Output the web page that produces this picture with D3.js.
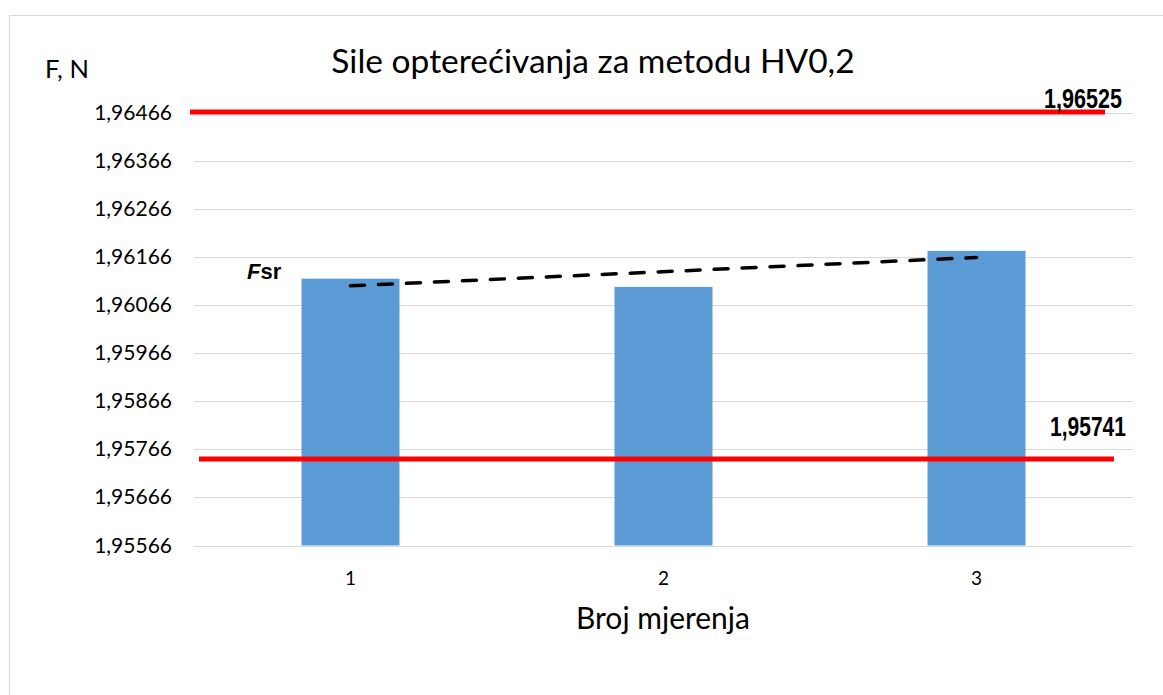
<!DOCTYPE html>
<html>
<head>
<meta charset="utf-8">
<script src="https://cdn.jsdelivr.net/npm/d3@7"></script>
<style>
  body { margin: 0; background: #fff; }
  svg { display: block; }
</style>
</head>
<body>
<div id="chart"></div>
<script>
// chart data
const categories = ["1", "2", "3"];
const forces = [1.961212, 1.961041, 1.961791];
const yTicks = [1.95566, 1.95666, 1.95766, 1.95866, 1.95966, 1.96066, 1.96166, 1.96266, 1.96366, 1.96466];
const trendStart = 1.961063;   // Fsr trend at measurement 1
const trendEnd = 1.961654;     // Fsr trend at measurement 3
const upperLimit = 1.96525;
const lowerLimit = 1.95741;

const width = 1163, height = 695;

const svg = d3.select("#chart").append("svg")
    .attr("width", width)
    .attr("height", height);

// outer chart border
svg.append("rect")
    .attr("x", 9.5).attr("y", 15.5)
    .attr("width", 1200).attr("height", 720)
    .attr("fill", "none")
    .attr("stroke", "#d9d9d9");

const x = d3.scaleBand()
    .domain(categories)
    .range([194, 1133])
    .paddingInner(0.687)
    .paddingOuter(0.3435);

const y = d3.scaleLinear()
    .domain([1.95566, 1.96466])
    .range([545.5, 113])
    .clamp(true);

// gridlines
svg.append("g")
    .selectAll("line")
    .data(yTicks)
    .enter()
    .append("line")
    .attr("x1", 194).attr("x2", 1133)
    .attr("y1", d => Math.round(y(d)) + 0.5)
    .attr("y2", d => Math.round(y(d)) + 0.5)
    .attr("stroke", "#d9d9d9")
    .attr("stroke-width", 1);

// y tick labels
svg.append("g")
    .selectAll("text")
    .data(yTicks)
    .enter()
    .append("text")
    .attr("x", 172)
    .attr("y", d => y(d) + 7)
    .attr("text-anchor", "end")
    .attr("font-family", "Lato, 'Open Sans', sans-serif")
    .attr("font-size", 21)
    .attr("fill", "#000")
    .text(d => d3.format(".5f")(d).replace(".", ","));

// bars
svg.append("g")
    .selectAll("rect")
    .data(forces)
    .enter()
    .append("rect")
    .attr("x", (d, i) => x(categories[i]))
    .attr("width", x.bandwidth())
    .attr("y", d => y(d))
    .attr("height", d => y(1.95566) - y(d))
    .attr("fill", "#5b9bd5");

// category labels
svg.append("g")
    .selectAll("text")
    .data(categories)
    .enter()
    .append("text")
    .attr("x", d => x(d) + x.bandwidth() / 2)
    .attr("y", 585)
    .attr("text-anchor", "middle")
    .attr("font-family", "Lato, 'Open Sans', sans-serif")
    .attr("font-size", 19)
    .text(d => d);

// limit lines
svg.append("line")
    .attr("x1", 190).attr("x2", 1105)
    .attr("y1", y(upperLimit) - 1).attr("y2", y(upperLimit) - 1)
    .attr("stroke", "#ff0000")
    .attr("stroke-width", 5);

svg.append("line")
    .attr("x1", 199).attr("x2", 1114)
    .attr("y1", y(lowerLimit) - 2.5).attr("y2", y(lowerLimit) - 2.5)
    .attr("stroke", "#ff0000")
    .attr("stroke-width", 5);

// limit labels
const fmt = d => d3.format(".5f")(d).replace(".", ",");
svg.append("text")
    .attr("x", 1044).attr("y", 108)
    .attr("font-family", "'Liberation Sans', Arial, sans-serif")
    .attr("font-weight", "bold")
    .attr("font-size", 27)
    .attr("textLength", 78)
    .attr("lengthAdjust", "spacingAndGlyphs")
    .text(fmt(upperLimit));

svg.append("text")
    .attr("x", 1050).attr("y", 436)
    .attr("font-family", "'Liberation Sans', Arial, sans-serif")
    .attr("font-weight", "bold")
    .attr("font-size", 27)
    .attr("textLength", 76)
    .attr("lengthAdjust", "spacingAndGlyphs")
    .text(fmt(lowerLimit));

// Fsr trend line (dashed)
const cx = d => x(d) + x.bandwidth() / 2;
svg.append("line")
    .attr("x1", cx(categories[0])).attr("y1", y(trendStart))
    .attr("x2", cx(categories[2])).attr("y2", y(trendEnd))
    .attr("stroke", "#000")
    .attr("stroke-width", 3.5)
    .attr("stroke-dasharray", "14,14")
    .attr("stroke-linecap", "round");

const fsr = svg.append("text")
    .attr("x", 247).attr("y", 279)
    .attr("font-family", "'Liberation Sans', Arial, sans-serif")
    .attr("font-weight", "bold")
    .attr("font-size", 22);
fsr.append("tspan").attr("font-style", "italic").text("F");
fsr.append("tspan").text("sr");

// title and axis titles
svg.append("text")
    .attr("x", 593).attr("y", 73)
    .attr("text-anchor", "middle")
    .attr("font-family", "Lato, 'Open Sans', sans-serif")
    .attr("font-size", 33.5)
    .text("Sile opterećivanja za metodu HV0,2");

svg.append("text")
    .attr("x", 45).attr("y", 78)
    .attr("font-family", "Lato, 'Open Sans', sans-serif")
    .attr("font-size", 25.5)
    .text("F, N");

svg.append("text")
    .attr("x", 663).attr("y", 629)
    .attr("text-anchor", "middle")
    .attr("font-family", "Lato, 'Open Sans', sans-serif")
    .attr("font-size", 30)
    .text("Broj mjerenja");
</script>
</body>
</html>
